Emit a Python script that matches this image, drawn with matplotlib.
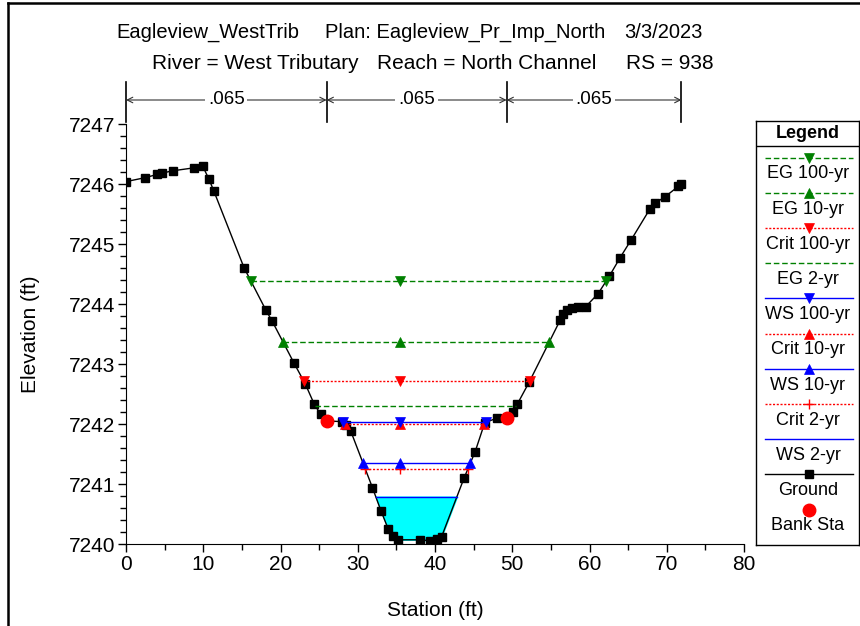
import numpy as np
import matplotlib
matplotlib.use('Agg')
import matplotlib.pyplot as plt
from matplotlib.lines import Line2D
from matplotlib.ticker import MultipleLocator

plt.rcParams['font.family'] = ['Liberation Sans', 'DejaVu Sans']

# Ground profile (station ft, elevation ft)
ground_sta = [0.0, 2.46, 4.05, 4.62, 6.04, 8.84, 9.92, 10.74, 11.35, 15.28,
              18.12, 18.94, 21.73, 23.2, 24.37, 25.2, 25.97, 28.0, 28.5, 29.07,
              31.9, 33.0, 33.96, 34.6, 35.25, 38.1, 39.3, 40.2, 40.85, 43.75,
              45.2, 46.45, 48.0, 49.27, 50.05, 50.65, 52.2, 56.2, 56.6, 57.1,
              57.7, 58.5, 59.5, 61.1, 62.55, 63.95, 65.4, 67.8, 68.5, 69.8,
              71.5, 71.9]
ground_elev = [7246.04, 7246.105, 7246.16, 7246.18, 7246.22, 7246.27, 7246.30, 7246.08, 7245.89, 7244.605,
               7243.895, 7243.71, 7243.02, 7242.67, 7242.33, 7242.16, 7242.05, 7242.04, 7241.98, 7241.89,
               7240.94, 7240.555, 7240.245, 7240.13, 7240.07, 7240.07, 7240.055, 7240.08, 7240.12, 7241.095,
               7241.54, 7242.025, 7242.095, 7242.095, 7242.205, 7242.33, 7242.70, 7243.73, 7243.83, 7243.90,
               7243.93, 7243.955, 7243.955, 7244.17, 7244.46, 7244.77, 7245.07, 7245.58, 7245.68, 7245.79,
               7245.96, 7246.00]

bank_sta = [25.97, 49.27]
mann_n = [".065", ".065", ".065"]

# Profiles in legend order
profile_names = ["EG 100-yr", "EG 10-yr", "Crit 100-yr", "EG 2-yr", "WS 100-yr",
                 "Crit 10-yr", "WS 10-yr", "Crit 2-yr", "WS 2-yr"]
profile_elev = [7244.39, 7243.37, 7242.72, 7242.30, 7242.03,
                7242.0, 7241.345, 7241.245, 7240.79]
profile_color = ["#008000", "#008000", "#ff0000", "#008000", "#0000ff",
                 "#ff0000", "#0000ff", "#ff0000", "#0000ff"]
profile_ls = ["dash", "dash", "dot", "dash", "solid", "dot", "solid", "dot", "solid"]
profile_marker = ["v", "^", "v", None, "v", "^", "^", "+", None]
mid_sta = 35.5

styles = {"dash": (0, (4, 2)), "dot": (0, (1.5, 1.2)), "solid": "-"}

gs = np.array(ground_sta)
ge = np.array(ground_elev)
imin = int(np.argmin(ge))


def crossing(level):
    # left bank descends to the low point, right bank climbs from it
    ls, le = gs[:imin + 1][::-1], ge[:imin + 1][::-1]
    left = np.interp(level, le, ls)
    rs, re = gs[imin:], ge[imin:]
    right = np.interp(level, re, rs)
    return left, right


fig = plt.figure(figsize=(8.6, 6.26), dpi=100)
ax = fig.add_axes([126 / 860, 82 / 626, 618 / 860, 420 / 626])

# water fill for WS 2-yr
ws2 = profile_elev[-1]
l2, r2 = crossing(ws2)
xs = np.concatenate([[l2], gs[(gs > l2) & (gs < r2)], [r2]])
ys = np.interp(xs, gs, ge)
ax.fill_between(xs, ys, ws2, color="#00ffff", zorder=1)

ax.plot(gs, ge, color="black", lw=1, marker="s", ms=6, zorder=3)

for i in reversed(range(len(profile_names))):
    lvl = profile_elev[i]
    a, b = crossing(lvl)
    z = 4 + (9 - i) * 0.01
    ax.plot([a, b], [lvl, lvl], color=profile_color[i], ls=styles[profile_ls[i]],
            lw=1, zorder=z)
    if profile_marker[i]:
        mk = profile_marker[i]
        ax.plot([a, mid_sta, b], [lvl] * 3, ls="none", marker=mk,
                color=profile_color[i], ms=6.5,
                mew=1 if mk == "+" else 0.5, zorder=z)

ax.plot(bank_sta, np.interp(bank_sta, gs, ge), ls="none", marker="o",
        color="#ff0000", ms=9, zorder=6)

ax.set_xlim(0, 80)
ax.set_ylim(7240, 7247)
ax.xaxis.set_major_locator(MultipleLocator(10))
ax.xaxis.set_minor_locator(MultipleLocator(5))
ax.yaxis.set_major_locator(MultipleLocator(1))
ax.yaxis.set_minor_locator(MultipleLocator(0.2))
ax.yaxis.set_major_formatter(matplotlib.ticker.FormatStrFormatter("%d"))
ax.tick_params(which="major", length=6, width=1, labelsize=15, pad=2)
ax.tick_params(which="minor", length=4, width=1)
ax.spines["top"].set_visible(False)
ax.spines["right"].set_visible(False)
fig.text(435 / 860, 1 - 610 / 626, "Station (ft)", ha="center", va="center", fontsize=15)
fig.text(30 / 860, 1 - 334 / 626, "Elevation (ft)", ha="center", va="center",
         rotation=90, fontsize=15)

# Manning's n brackets
edges = [0.0, bank_sta[0], bank_sta[1], ground_sta[-1]]
yb = 7247.4
for e in edges:
    ax.plot([e, e], [7247.03, 7247.7], color="black", lw=1.2, clip_on=False)
for k in range(3):
    ax.annotate("", xy=(edges[k + 1], yb), xytext=(edges[k], yb),
                arrowprops=dict(arrowstyle="<->", lw=0.8, color="#333333",
                                shrinkA=0, shrinkB=0, mutation_scale=10),
                annotation_clip=False)
    ax.text((edges[k] + edges[k + 1]) / 2, yb, mann_n[k], ha="center", va="center",
            fontsize=13.5, bbox=dict(facecolor="white", edgecolor="none", pad=2))

# titles
t1 = 1 - 38 / 626
t2 = 1 - 69 / 626
fig.text(116 / 860, t1, "Eagleview_WestTrib", ha="left", va="baseline", fontsize=14.5)
fig.text(325 / 860, t1, "Plan: Eagleview_Pr_Imp_North", ha="left", va="baseline", fontsize=14.5)
fig.text(703 / 860, t1, "3/3/2023", ha="right", va="baseline", fontsize=14.5)
fig.text(152 / 860, t2, "River = West Tributary", ha="left", va="baseline", fontsize=15)
fig.text(377 / 860, t2, "Reach = North Channel", ha="left", va="baseline", fontsize=15)
fig.text(714 / 860, t2, "RS = 938", ha="right", va="baseline", fontsize=15)

# figure border (left and top)
fig.add_artist(Line2D([7.5 / 860, 7.5 / 860], [0, 1 - 2.5 / 626], color="black", lw=1.8))
fig.add_artist(Line2D([7.5 / 860, 1], [1 - 2.5 / 626, 1 - 2.5 / 626], color="black", lw=1.8))

# legend panel
lg = fig.add_axes([756 / 860, 81 / 626, 103 / 860, 424 / 626])
lg.set_xlim(0, 103)
lg.set_ylim(424, 0)
lg.set_xticks([])
lg.set_yticks([])
for s in lg.spines.values():
    s.set_linewidth(1)
lg.text(51.5, 12.5, "Legend", ha="center", va="center", fontsize=13, fontweight="bold")
lg.plot([0, 103], [25, 25], color="black", lw=1)
for i, name in enumerate(profile_names):
    y = 36.5 + 35.2 * i
    lg.plot([9, 97], [y, y], color=profile_color[i], ls=styles[profile_ls[i]], lw=1)
    if profile_marker[i]:
        lg.plot([53], [y], marker=profile_marker[i], color=profile_color[i], ms=6.5,
                mew=1 if profile_marker[i] == "+" else 0.5)
    lg.text(52, y + 16.5, name, ha="center", va="center", fontsize=13)
y = 36.5 + 35.2 * 9
lg.plot([9, 97], [y, y], color="black", lw=1)
lg.plot([53], [y], marker="s", color="black", ms=6)
lg.text(52, y + 16.5, "Ground", ha="center", va="center", fontsize=13)
y = 36.5 + 35.2 * 10
lg.plot([53], [y], marker="o", color="#ff0000", ms=9)
lg.text(52, y + 16.5, "Bank Sta", ha="center", va="center", fontsize=13)

fig.savefig("out.png", dpi=100)
